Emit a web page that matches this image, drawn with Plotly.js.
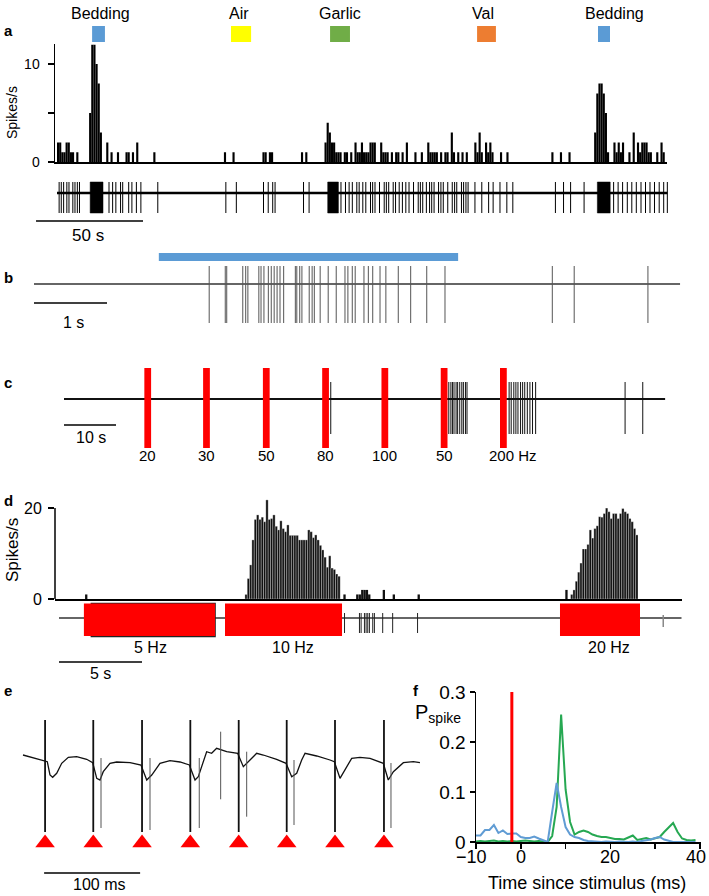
<!DOCTYPE html>
<html>
<head>
<meta charset="utf-8">
<script src="https://cdn.plot.ly/plotly-3.0.1.min.js"></script>
<style>
  html, body { margin: 0; padding: 0; background: #fff; }
  #chart { width: 709px; height: 896px; }
</style>
</head>
<body>
<div id="chart"></div>
<script>
const W = 709;
const H = 896;
const FONT = 'Liberation Sans, Arial, Helvetica, sans-serif';

// ---------- panel a: odours, rate histogram (1 s bins), raw trace ----------
const odorNames = ['Bedding', 'Air', 'Garlic', 'Val', 'Bedding'];
const odorStart = [16.4, 81.3, 127.6, 196.3, 252.8];
const odorEnd = [22.4, 90.7, 136.9, 205.1, 258.4];
const odorColors = ['#5b9bd5', '#ffff00', '#70ad47', '#ed7d31', '#5b9bd5'];
const odorLabelT = [20.1, 85, 132.2, 199, 260.3];

const histABin = [
  0, 1, 2, 3, 4, 5, 6, 7, 9,
  15, 16, 17, 18, 19, 20,
  23, 25, 28, 32, 33, 35, 37, 45,
  78, 82, 96, 97, 99, 100, 114, 116,
  125, 126, 127, 128, 129, 130, 131, 132, 134, 135, 137, 139, 140, 141, 142, 143, 144, 145, 146, 147, 148,
  151, 152, 153, 154, 156, 158, 159, 161, 163, 167, 170,
  173, 174, 175, 176, 177, 179, 181, 182, 184, 185, 187, 189, 191,
  195, 196, 197, 198, 200, 201, 202, 203, 207, 210,
  231, 235, 239,
  251, 252, 253, 254, 255, 256, 257,
  260, 261, 262, 263, 264, 267, 269, 271, 272, 273, 274, 275, 276, 277, 280, 282, 283
];
const histARate = [
  2, 2, 1, 1, 2, 2, 1, 1, 1,
  5, 12, 12, 10, 8, 3,
  2, 1, 1, 1, 1, 1, 2, 1,
  1, 1, 1, 1, 1, 1, 1, 1,
  2, 4, 3, 2, 2, 1, 1, 1, 1, 1, 1, 2, 1, 1, 2, 1, 1, 1, 2, 2, 2,
  2, 1, 1, 1, 1, 1, 1, 1, 2, 1, 1,
  2, 1, 1, 1, 1, 1, 1, 1, 3, 1, 1, 1, 1,
  2, 1, 3, 1, 2, 1, 2, 1, 1, 1,
  1, 1, 1,
  3, 7, 8, 8, 7, 5, 1,
  2, 1, 2, 1, 2, 1, 3, 2, 1, 2, 2, 2, 1, 1, 1, 2, 1
];

const traceASpikes = [
  1.0, 2.0, 3.1, 4.6, 5.6, 7.4, 8.4, 9.5, 10.5, 24.3, 26.0, 27.5, 29.7, 30.7, 33.5, 35.0, 37.1, 39.2,
  47.1, 78.9, 83.8, 96.5, 98.7, 100.8, 101.9, 115.2, 117.8, 132.7, 134.8, 136.5, 138.0, 140.1, 141.2,
  142.9, 144.3, 146.5, 147.5, 148.6, 150.7, 152.9, 153.9, 155.0, 157.1, 158.2, 159.9, 161.4, 163.0,
  164.5, 166.6, 168.8, 169.8, 170.9, 172.6, 174.1, 175.1, 176.2, 178.3, 179.4, 180.5, 182.6, 184.7,
  185.8, 186.8, 189.0, 190.0, 191.1, 192.1, 195.3, 198.5, 201.7, 203.8, 207.0, 210.2, 213.0, 232.9,
  236.7, 240.0, 246.3, 260.1, 262.2, 264.3, 266.5, 268.6, 270.7, 272.9, 275.0, 277.1, 279.2, 281.4,
  283.5, 285.2
];
const traceABursts = [[15.5, 21.5], [126.5, 131.5], [252.5, 258.5]];
const traceAEnd = 285.2;

// ---------- panel b: bedding stimulus and trace (s) ----------
const stimB = [1.71, 5.81];
const traceBSpikes = [
  2.40, 2.62, 2.64, 2.86, 2.90, 2.93, 3.08, 3.11, 3.15, 3.21, 3.25, 3.29, 3.33, 3.37, 3.42,
  3.58, 3.60, 3.64, 3.67, 3.77, 3.81, 3.84, 3.92, 4.03, 4.14, 4.26, 4.30, 4.36, 4.40, 4.52,
  4.58, 4.64, 4.74, 4.82, 4.99, 5.16, 5.38, 5.63, 7.10, 7.40, 8.41
];
const traceBEnd = 8.85;

// ---------- panel c: optogenetic trains (s) ----------
const stimCLabel = ['20', '30', '50', '80', '100', '50', '200 Hz'];
const stimCTime = [16.1, 27.4, 38.9, 50.3, 61.7, 73.1, 84.5];
const stimCWidth = 1.3;
const traceCSpikes = [
  51.3, 74.0, 74.4, 74.7, 75.0, 75.4, 75.7, 76.1, 76.5, 76.8, 77.2, 77.5,
  85.6, 86.0, 86.5, 86.9, 87.3, 87.8, 88.2, 88.6, 89.1, 89.6, 90.1, 90.7, 107.9, 111.3
];
const traceCEnd = 115.6;

// ---------- panel d: rate histogram (0.14 s bins) and trace (s) ----------
const dBin = 0.14;
const dBurst1Start = 11.2;
const dBurst1 = [
  1, 4.5, 7.5, 13, 17.5, 18.5, 17.5, 18, 17, 21.8, 17.5, 17.7, 18.5, 16, 15.2, 17.2, 15.5,
  14.8, 16.3, 14, 14, 14, 14, 13, 13, 13, 13, 15.2, 14.8, 13.5, 14.1, 13, 11.8, 10.8, 9.2,
  7, 9.5, 6.8, 6.5, 5.5, 5
];
const dBurst2Start = 30.82;
const dBurst2 = [
  1, 2, 3.9, 5.9, 7.9, 11, 11, 12, 15.2, 13.4, 15.5, 16.1, 18.1, 18, 18.8, 20, 19.2, 17.7,
  18.8, 18.8, 17.7, 18.8, 19.9, 19.2, 18.8, 17.7, 17, 15.5, 14.1
];
const dSparseT = [1.57, 17.13, 17.9, 18.05, 18.2, 18.34, 18.48, 18.62, 19.5, 20.1, 21.6, 30.5];
const dSparseV = [1, 1, 1, 1, 2, 2, 2, 1, 2, 1, 1, 2];
const stimDLabel = ['5 Hz', '10 Hz', '20 Hz'];
const stimDStart = [1.5, 10.0, 30.18];
const stimDEnd = [9.4, 17.05, 35.0];
const traceDSpikes = [17.2, 18.1, 18.2, 18.4, 18.5, 18.6, 18.7, 18.9, 19.0, 19.5, 20.1, 21.6];
const traceDSmall = [36.4];
const traceDEnd = 37.5;

// ---------- panel e: 20 Hz stimulation trace (ms) ----------
const eTime = [
  0, 21.1, 25.3, 28.1, 30.9, 35.1, 40.3, 47.2, 55.9, 66.3, 72.6, 76.8, 80.2, 83.6, 90.6, 97.6,
  111.5, 122.9, 128.9, 134.1, 142.7, 153.1, 163.5, 173.3, 179.2, 182.6, 186.1, 191.3, 196.5,
  201.7, 212.2, 223.6, 229.5, 236.5, 243.4, 250.3, 264.2, 274, 279.9, 285.1, 290.3, 293.8,
  305.9, 319.8, 324.3, 330.2, 337.2, 342.4, 351, 361.5, 375.3, 380.5, 385.8, 396.2, 406.6, 413.5
];
const eVolt = [
  5, -0.7, -1.7, -15, -17.3, -13.3, -3.3, 2.7, 3.3, 0.7, -2.7, -18.3, -20, -11.7, -3.3, -2,
  -2.7, -5, -20, -15, -3.3, -0.7, -2, -5, -20, -16.7, -6.7, 8.3, 6.7,
  11.7, 8.3, 6.7, -6.7, 0, 6.7, 5, 0.7, -3.3, -16.7, -13.3, 0, 6.7,
  4, 0, -1.7, -18.3, -6.7, 1.7, 2.7, 1.7, -3.3, -20, -11.7, -2.7, -1.7, -2.7
];
const eStim = [23, 73.2, 124, 174.3, 224.7, 274.7, 325, 376];
const eSpikeT = [81.25, 132.3, 183.6, 205.9, 233, 282.3, 383.3];
const eSpikeTop = [2, 2, 2, 28.3, 8.3, 0, -3];
const eSpikeBottom = [-68, -70, -68, -39.3, -56.7, -65, -68];

// ---------- panel f: spike probability (ms) ----------
const fTime = [
  -10, -9, -8, -7, -6, -5, -4, -3, -2, -1, 0, 1, 2, 3, 4, 5, 6, 7, 8, 9, 10, 11, 12, 13, 14,
  15, 16, 17, 18, 19, 20, 21, 22, 23, 24, 25, 26, 27, 28, 29, 30, 31, 32, 33, 34, 35, 36, 37, 38, 39
];
const fBlue = [
  0.013, 0.013, 0.024, 0.024, 0.034, 0.018, 0.023, 0.016, 0.017, 0.017, 0.01, 0.008, 0.008,
  0.011, 0.007, 0.003, 0, 0.06, 0.118, 0.07, 0.03, 0.015, 0.01, 0.008, 0.004,
  0.002, 0.001, 0, 0, 0.001, 0, 0, 0.001, 0, 0, 0.001, 0, 0.002, 0.003, 0.005,
  0.008, 0.01, 0.005, 0.002, 0, 0, 0, 0, 0, 0
];
const fGreen = [
  0.001, 0.002, 0.001, 0.002, 0.003, 0.001, 0.002, 0.001, 0.002, 0.001, 0.002, 0.003, 0.002,
  0.001, 0.002, 0.001, 0, 0.012, 0.07, 0.255, 0.105, 0.04, 0.015, 0.02, 0.023,
  0.02, 0.015, 0.012, 0.01, 0.01, 0.008, 0.006, 0.006, 0.005, 0.009, 0.013, 0.004, 0.006, 0.008, 0.005,
  0.008, 0.01, 0.02, 0.03, 0.038, 0.02, 0.007, 0.004, 0.003, 0.004
];
const fStim = -2;
const fTickVals = [-10, 0, 20, 40];
const fTickText = ['\u221210', '0', '20', '40'];

// ---------- helpers ----------
const px = (v) => v / W;
const py = (v) => 1 - v / H;
const vdom = (top, bottom) => [1 - bottom / H, 1 - top / H];
const hr = (left, right, zero, s) => [(left - zero) / s, (right - zero) / s];
const vr = (top, bottom, zero, s) => [(zero - bottom) / s, (zero - top) / s];

function spikeLines(times, top, bottom) {
  const x = [];
  const y = [];
  times.forEach((t, i) => {
    const t0 = Array.isArray(top) ? top[i] : top;
    const b0 = Array.isArray(bottom) ? bottom[i] : bottom;
    x.push(t, t, null);
    y.push(b0, t0, null);
  });
  return { x, y };
}

function line(axes, xy, color, width) {
  return {
    type: 'scatter', mode: 'lines', x: xy.x, y: xy.y, xaxis: axes[0], yaxis: axes[1],
    line: { color, width }, hoverinfo: 'skip', connectgaps: false
  };
}

function hidden(domain, range, anchor) {
  return { domain, range, anchor, visible: false, fixedrange: true };
}

function ann(text, x, y, size, extra = {}) {
  return Object.assign({
    text, x: px(x), y: py(y), xref: 'paper', yref: 'paper', showarrow: false,
    xanchor: 'center', yanchor: 'middle', font: { size, family: FONT, color: '#000' }
  }, extra);
}

function hbar(xref, t0, t1, y) {
  return {
    type: 'line', xref, yref: 'paper', x0: t0, x1: t1, y0: py(y), y1: py(y),
    line: { color: '#000', width: 1.5 }
  };
}

// ---------- traces ----------
const traces = [];

// a histogram
traces.push({
  type: 'bar', x: histABin, y: histARate, width: 1, offset: 0, xaxis: 'x', yaxis: 'y',
  marker: { color: '#000', line: { width: 0 } }, hoverinfo: 'skip'
});

// a trace
traces.push(line(['x2', 'y2'], { x: [0, traceAEnd], y: [0, 0] }, '#000', 2.5));
traces.push(line(['x2', 'y2'], spikeLines(traceASpikes, 11, -20), '#000', 1));
const burstX = [];
const burstY = [];
traceABursts.forEach(([s, e]) => {
  burstX.push(s, e, e, s, s, null);
  burstY.push(-20, -20, 11, 11, -20, null);
});
traces.push({
  type: 'scatter', mode: 'lines', x: burstX, y: burstY, xaxis: 'x2', yaxis: 'y2',
  fill: 'toself', fillcolor: '#000', line: { color: '#000', width: 0.5 }, hoverinfo: 'skip'
});

// b trace
traces.push(line(['x3', 'y3'], { x: [0, traceBEnd], y: [0, 0] }, '#666', 2));
traces.push(line(['x3', 'y3'], spikeLines(traceBSpikes, 18, -39), '#555', 1));

// c trace
traces.push(line(['x4', 'y4'], { x: [0, traceCEnd], y: [0, 0] }, '#111', 2));
traces.push(line(['x4', 'y4'], spikeLines(traceCSpikes, 17, -35), '#111', 1));

// d histogram
traces.push({
  type: 'bar', x: dBurst1.map((_, i) => dBurst1Start + i * dBin), y: dBurst1,
  width: dBin, offset: 0, xaxis: 'x5', yaxis: 'y5',
  marker: { color: '#111', line: { width: 0.3, color: '#fff' } }, hoverinfo: 'skip'
});
traces.push({
  type: 'bar', x: dBurst2.map((_, i) => dBurst2Start + i * dBin), y: dBurst2,
  width: dBin, offset: 0, xaxis: 'x5', yaxis: 'y5',
  marker: { color: '#111', line: { width: 0.3, color: '#fff' } }, hoverinfo: 'skip'
});
traces.push({
  type: 'bar', x: dSparseT, y: dSparseV, width: dBin, offset: 0, xaxis: 'x5', yaxis: 'y5',
  marker: { color: '#111', line: { width: 0 } }, hoverinfo: 'skip'
});

// d trace
traces.push(line(['x6', 'y6'], { x: [0, traceDEnd], y: [0, 0] }, '#333', 1.3));
traces.push(line(['x6', 'y6'], spikeLines(traceDSpikes, 5, -15), '#222', 1));
traces.push(line(['x6', 'y6'], spikeLines(traceDSmall, 3, -9), '#888', 1.5));

// e trace
traces.push({
  type: 'scatter', mode: 'lines', x: eTime, y: eVolt, xaxis: 'x7', yaxis: 'y7',
  line: { color: '#111', width: 1.3 }, hoverinfo: 'skip'
});
traces.push(line(['x7', 'y7'], spikeLines(eStim, 40, -72), '#111', 1.8));
traces.push(line(['x7', 'y7'], spikeLines(eSpikeT, eSpikeTop, eSpikeBottom), '#555', 1));
traces.push({
  type: 'scatter', mode: 'markers', x: eStim, y: eStim.map(() => -83), xaxis: 'x7', yaxis: 'y7',
  marker: { symbol: 'triangle-up', size: 17, color: '#ff0000', line: { width: 0 } },
  hoverinfo: 'skip', cliponaxis: false
});

// f
traces.push({
  type: 'scatter', mode: 'lines', x: fTime, y: fGreen, xaxis: 'x8', yaxis: 'y8',
  line: { color: 'rgb(38,168,82)', width: 2 }, hoverinfo: 'skip', cliponaxis: false
});
traces.push({
  type: 'scatter', mode: 'lines', x: fTime, y: fBlue, xaxis: 'x8', yaxis: 'y8',
  line: { color: 'rgb(96,156,212)', width: 2 }, hoverinfo: 'skip', cliponaxis: false
});
traces.push({
  type: 'scatter', mode: 'lines', x: [fStim, fStim], y: [0, 0.3], xaxis: 'x8', yaxis: 'y8',
  line: { color: '#ff0000', width: 3 }, hoverinfo: 'skip', cliponaxis: false
});

// ---------- shapes ----------
const shapes = [];
odorNames.forEach((_, i) => {
  shapes.push({
    type: 'rect', xref: 'x2', yref: 'paper', x0: odorStart[i], x1: odorEnd[i],
    y0: py(42), y1: py(26), fillcolor: odorColors[i], line: { width: 0 }
  });
});
shapes.push({
  type: 'rect', xref: 'x3', yref: 'paper', x0: stimB[0], x1: stimB[1],
  y0: py(261), y1: py(253), fillcolor: '#5b9bd5', line: { width: 0 }
});
stimCTime.forEach((t) => {
  shapes.push({
    type: 'rect', xref: 'x4', yref: 'y4', x0: t - stimCWidth / 2, x1: t + stimCWidth / 2,
    y0: -49, y1: 31, fillcolor: '#ff0000', line: { width: 0 }
  });
});
// dark edge behind the first d box
shapes.push({
  type: 'rect', xref: 'x6', yref: 'y6', x0: stimDStart[0] + 0.45, x1: stimDEnd[0],
  y0: -18.5, y1: 14.5, fillcolor: 'rgba(0,0,0,0)', line: { color: '#222', width: 1.5 }
});
stimDStart.forEach((t, i) => {
  shapes.push({
    type: 'rect', xref: 'x6', yref: 'y6', x0: t, x1: stimDEnd[i],
    y0: -18, y1: 14.5, fillcolor: '#ff0000', line: { width: 0 }
  });
});
shapes.push({
  type: 'line', xref: 'paper', yref: 'y5', x0: px(55), x1: px(55), y0: 0, y1: 20,
  line: { color: '#000', width: 1.5 }
});
shapes.push(hbar('x2', -9.8, 40.2, 221));
shapes.push(hbar('x3', 0, 1, 303));
shapes.push(hbar('x4', 0, 10, 425));
shapes.push(hbar('x6', 0, 5, 662));
shapes.push(hbar('x7', 22, 122, 873));

// ---------- annotations ----------
const annotations = [];
odorNames.forEach((name, i) => {
  annotations.push(Object.assign(ann(name, 0, 13, 16), { xref: 'x2', x: odorLabelT[i] }));
});
[['a', 2, 30], ['b', 2, 277], ['c', 2, 382], ['d', 2, 500], ['e', 2, 690], ['f', 411, 690]].forEach(([l, x, y]) => {
  annotations.push(ann('<b>' + l + '</b>', x, y, 15, { xanchor: 'left' }));
});
annotations.push(ann('Spikes/s', 12, 113, 14, { textangle: -90 }));
annotations.push(ann('Spikes/s', 12, 550, 17, { textangle: -90 }));
annotations.push(ann('50 s', 88, 235, 17));
annotations.push(ann('1 s', 73, 322, 16));
annotations.push(ann('10 s', 91, 437, 16));
stimCLabel.forEach((lab, i) => {
  const a = Object.assign(ann(lab, 0, 455, 15), { xref: 'x4', x: stimCTime[i] });
  if (lab.length > 3) { a.xanchor = 'left'; a.xshift = -16; }
  annotations.push(a);
});
const dLabelPx = [150, 293, 609];
stimDLabel.forEach((lab, i) => annotations.push(ann(lab, dLabelPx[i], 647, 16)));
annotations.push(ann('5 s', 100, 673, 16));
annotations.push(ann('100 ms', 99, 884, 16));
annotations.push(ann('P<sub>spike</sub>', 413, 713, 20, { xanchor: 'left' }));
fTickVals.forEach((v, i) => {
  const a = Object.assign(ann(fTickText[i], 0, 857, 18), { xref: 'x8', x: v });
  if (i === 0) { a.xshift = -4; }
  if (i === fTickVals.length - 1) { a.xanchor = 'right'; a.xshift = 8; }
  annotations.push(a);
});
annotations.push(ann('Time since stimulus (ms)', 587, 883, 18));

// ---------- layout ----------
const blackAxis = {
  showline: true, linecolor: '#000', linewidth: 1.5, showgrid: false, zeroline: false,
  fixedrange: true, tickcolor: '#000', tickwidth: 1.5
};

const layout = {
  width: W, height: H, margin: { l: 0, r: 0, t: 0, b: 0 },
  paper_bgcolor: '#fff', plot_bgcolor: 'rgba(0,0,0,0)', showlegend: false, barmode: 'overlay',
  font: { family: FONT, color: '#000' },
  xaxis: Object.assign({}, blackAxis, {
    domain: [px(55), px(667)], range: hr(55, 667, 57, 2.14), anchor: 'y',
    ticks: '', showticklabels: false
  }),
  yaxis: Object.assign({}, blackAxis, {
    domain: vdom(44.4, 162), range: [0, 12], anchor: 'x', ticks: 'outside', ticklen: 6,
    tickvals: [0, 10], ticktext: ['0', '10'], tickfont: { size: 14 }, ticklabelstandoff: 5,
    minor: { tickvals: [5], ticks: 'outside', ticklen: 6, tickwidth: 1.5, tickcolor: '#000', showgrid: false }
  }),
  xaxis2: hidden([0, 1], hr(0, W, 57, 2.14), 'y2'),
  yaxis2: hidden(vdom(175, 220), vr(175, 220, 193, 1), 'x2'),
  xaxis3: hidden([0, 1], hr(0, W, 34, 73), 'y3'),
  yaxis3: hidden(vdom(255, 330), vr(255, 330, 284, 1), 'x3'),
  xaxis4: hidden([0, 1], hr(0, W, 64, 5.2), 'y4'),
  yaxis4: hidden(vdom(360, 455), vr(360, 455, 399, 1), 'x4'),
  xaxis5: Object.assign({}, blackAxis, {
    domain: [px(55), px(682)], range: hr(55, 682, 59, 16.6), anchor: 'y5',
    ticks: '', showticklabels: false
  }),
  yaxis5: Object.assign({}, blackAxis, {
    domain: vdom(499, 599), range: [0, 22], anchor: 'x5', showline: false,
    ticks: 'outside', ticklen: 6, tickvals: [0, 20], ticktext: ['0', '20'],
    tickfont: { size: 16 }, ticklabelstandoff: 3
  }),
  xaxis6: hidden([0, 1], hr(0, W, 59, 16.6), 'y6'),
  yaxis6: hidden(vdom(600, 645), vr(600, 645, 618, 1), 'x6'),
  xaxis7: hidden([0, 1], hr(0, W, 23, 0.96), 'y7'),
  yaxis7: hidden(vdom(715, 852), vr(715, 852, 760, 1), 'x7'),
  xaxis8: Object.assign({}, blackAxis, {
    domain: [px(476), px(701)], range: [-10, -10 + 225 / 4.48], anchor: 'y8',
    ticks: 'outside', ticklen: 5, tickvals: [-10, 0, 10, 20, 30, 40],
    showticklabels: false, layer: 'below traces'
  }),
  yaxis8: Object.assign({}, blackAxis, {
    domain: vdom(692, 842), range: [0, 0.3], anchor: 'x8', ticks: 'outside', ticklen: 5,
    tickvals: [0, 0.1, 0.2, 0.3], ticktext: ['0', '0.1', '0.2', '0.3'], tickfont: { size: 19 }
  }),
  shapes,
  annotations
};

Plotly.newPlot('chart', traces, layout, { staticPlot: true, displayModeBar: false });
</script>
</body>
</html>
